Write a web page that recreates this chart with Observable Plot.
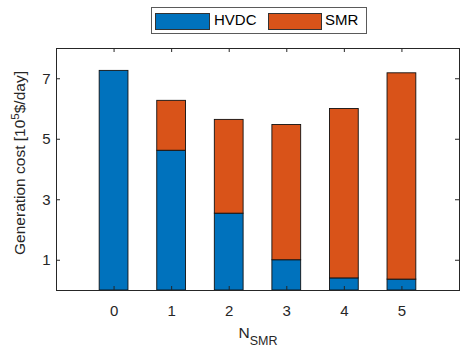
<!DOCTYPE html>
<html>
<head>
<meta charset="utf-8">
<script src="https://cdn.jsdelivr.net/npm/d3@7"></script>
<script src="https://cdn.jsdelivr.net/npm/@observablehq/plot@0.6"></script>
<style>
  html, body { margin: 0; padding: 0; background: #fff; }
  #wrap { position: relative; width: 460px; height: 347px; font-family: "Liberation Sans", Arial, Helvetica, sans-serif; color: #262626; }
  #legend { position: absolute; left: 151px; top: 7px; width: 216px; height: 27px; border: 1px solid #5a5a5a; background: #fff; box-sizing: border-box; }
  .sw { position: absolute; top: 5px; height: 17px; border: 1px solid #333; box-sizing: border-box; }
  .lt { position: absolute; top: 3px; font-size: 15px; line-height: 17px; color: #000; }
</style>
</head>
<body>
<div id="wrap"></div>
<script>
// ---- data ----
const categories = [0, 1, 2, 3, 4, 5];
const seriesNames = ["HVDC", "SMR"];
const hvdcValues = [7.26, 4.62, 2.54, 1.00, 0.40, 0.36];
const smrValues  = [0.00, 1.65, 3.10, 4.47, 5.60, 6.82];
const xTicks = [0, 1, 2, 3, 4, 5];
const yTicks = [1, 3, 5, 7];
const colors = ["#0072BD", "#D95319"];
const yLabelMain = "Generation cost [10";
const yLabelSup = "5";
const yLabelEnd = "$/day]";
const xLabelMain = "N";
const xLabelSub = "SMR";

// ---- build stacked rows ----
const rows = [];
categories.forEach((n, i) => {
  rows.push({n, series: "HVDC", y1: 0, y2: hvdcValues[i]});
  if (smrValues[i] > 0) rows.push({n, series: "SMR", y1: hvdcValues[i], y2: hvdcValues[i] + smrValues[i]});
});

const W = 460, H = 347;
const mL = 56, mR = 1, mT = 48, mB = 57;
const frameW = W - mL - mR, frameH = H - mT - mB;
const tickLen = 4;
const barW = 0.5;
const axisColor = "#262626";
const fam = '"Liberation Sans", Arial, Helvetica, sans-serif';

const chart = Plot.plot({
  width: W, height: H,
  marginLeft: mL, marginRight: mR, marginTop: mT, marginBottom: mB,
  x: {domain: [-1, 6]},
  y: {domain: [0, 8]},
  color: {domain: seriesNames, range: colors},
  style: {fontFamily: fam, fontSize: "15px", color: axisColor, background: "white"},
  marks: [
    Plot.rect(rows, {x1: d => d.n - barW / 2, x2: d => d.n + barW / 2, y1: "y1", y2: "y2", fill: "series", stroke: "#111", strokeWidth: 0.9}),
    Plot.tickX(xTicks, {x: d => d, stroke: axisColor, insetTop: frameH - tickLen}),
    Plot.tickX(xTicks, {x: d => d, stroke: axisColor, insetBottom: frameH - tickLen}),
    Plot.tickY(yTicks, {y: d => d, stroke: axisColor, insetRight: frameW - tickLen}),
    Plot.tickY(yTicks, {y: d => d, stroke: axisColor, insetLeft: frameW - tickLen}),
    Plot.frame({stroke: axisColor}),
    Plot.axisX({ticks: xTicks, tickFormat: d3.format("d"), tickSize: 0, tickPadding: 15, label: null, fontSize: 15}),
    Plot.axisY({ticks: yTicks, tickFormat: d3.format("d"), tickSize: 0, tickPadding: 6, label: null, fontSize: 15})
  ]
});

const wrap = document.getElementById("wrap");
wrap.appendChild(chart);

// axis labels with super/subscripts
const svg = d3.select(chart);
const yl = svg.append("text")
  .attr("transform", `translate(25,163) rotate(-90)`)
  .attr("text-anchor", "middle").attr("fill", axisColor)
  .style("font-family", fam).style("font-size", "15.5px");
yl.append("tspan").text(yLabelMain);
yl.append("tspan").attr("dy", -6).style("font-size", "11.5px").text(yLabelSup);
yl.append("tspan").attr("dy", 6).text(yLabelEnd);

const xl = svg.append("text")
  .attr("x", 258).attr("y", 338)
  .attr("text-anchor", "middle").attr("fill", axisColor)
  .style("font-family", fam).style("font-size", "15.5px");
xl.append("tspan").text(xLabelMain);
xl.append("tspan").attr("dy", 7).style("font-size", "12.5px").text(xLabelSub);

// legend
const legend = document.createElement("div");
legend.id = "legend";
const swX = [3, 116], swW = [55, 54], txX = [62, 173];
seriesNames.forEach((name, i) => {
  const sw = document.createElement("div");
  sw.className = "sw"; sw.style.left = swX[i] + "px"; sw.style.width = swW[i] + "px"; sw.style.background = colors[i];
  legend.appendChild(sw);
  const t = document.createElement("div");
  t.className = "lt"; t.style.left = txX[i] + "px"; t.textContent = name;
  legend.appendChild(t);
});
wrap.appendChild(legend);
</script>
</body>
</html>
